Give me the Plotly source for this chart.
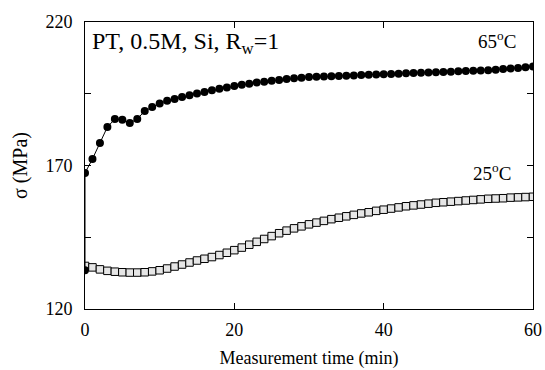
import plotly.graph_objects as go

# Data
time_min = list(range(0, 61))

sigma_65C = [167.4, 172.3, 177.8, 183.4, 186.2, 185.9, 184.8, 186.2, 189.0, 190.4,
             191.6, 192.6, 193.2, 193.9, 194.5, 195.1, 195.6, 196.2, 196.7, 197.2,
             197.7, 198.1, 198.5, 198.9, 199.2, 199.5, 199.8, 200.1, 200.4, 200.6,
             200.8, 200.9, 201.0, 201.1, 201.2, 201.3, 201.4, 201.5, 201.6, 201.7,
             201.8, 201.9, 202.0, 202.1, 202.2, 202.3, 202.4, 202.5, 202.6, 202.7,
             202.8, 202.9, 203.0, 203.1, 203.2, 203.4, 203.6, 203.8, 204.0, 204.2,
             204.5]
# initial reading of the 65 C run before the first plotted point
t0_65C = [0]
sigma0_65C = [133.5]

sigma_25C = [135.0, 134.5, 133.8, 133.3, 133.0, 132.8, 132.7, 132.7, 132.8, 133.1,
             133.5, 134.1, 134.8, 135.5, 136.2, 136.9, 137.5, 138.1, 138.8, 139.6,
             140.5, 141.4, 142.4, 143.4, 144.4, 145.4, 146.4, 147.3, 148.1, 148.8,
             149.5, 150.1, 150.7, 151.3, 151.8, 152.3, 152.8, 153.3, 153.7, 154.2,
             154.6, 155.0, 155.4, 155.8, 156.1, 156.4, 156.7, 157.0, 157.2, 157.4,
             157.6, 157.8, 158.0, 158.2, 158.4, 158.5, 158.6, 158.8, 158.9, 159.0,
             159.1]

x_ticks = [0, 20, 40, 60]
y_ticks = [120, 170, 220]

FONT = "Liberation Serif, Times New Roman, serif"

fig = go.Figure()

fig.add_trace(go.Scatter(
    x=time_min, y=sigma_25C, mode="lines+markers",
    line=dict(color="black", width=1),
    marker=dict(symbol="square", size=7.5, color="rgba(230,230,230,1)",
                line=dict(color="black", width=1)),
    showlegend=False))

fig.add_trace(go.Scatter(
    x=t0_65C + time_min, y=sigma0_65C + sigma_65C, mode="lines+markers",
    line=dict(color="black", width=1),
    marker=dict(symbol="circle", size=8, color="black"),
    showlegend=False))

fig.add_annotation(x=0.012, y=0.985, xref="paper", yref="paper", xanchor="left", yanchor="top",
                   text="PT, 0.5M, Si, R<sub>w</sub>=1", showarrow=False,
                   font=dict(family=FONT, size=24, color="black"))
fig.add_annotation(x=0.966, y=0.985, xref="paper", yref="paper", xanchor="right", yanchor="top",
                   text="65<sup>o</sup>C", showarrow=False,
                   font=dict(family=FONT, size=19, color="black"))
fig.add_annotation(x=0.955, y=0.525, xref="paper", yref="paper", xanchor="right", yanchor="top",
                   text="25<sup>o</sup>C", showarrow=False,
                   font=dict(family=FONT, size=19, color="black"))

fig.update_xaxes(range=[0, 60], tickvals=x_ticks, ticks="inside", ticklen=6,
                 tickcolor="black", showline=True, linecolor="black", linewidth=1,
                 mirror="ticks", showgrid=False, zeroline=False, automargin=False,
                 ticklabelstandoff=4,
                 tickfont=dict(family=FONT, size=18, color="black"),
                 title=dict(text="Measurement time (min)", standoff=12,
                            font=dict(family=FONT, size=18, color="black")))
fig.update_yaxes(range=[120, 220], tickvals=y_ticks, ticks="inside", ticklen=6,
                 tickcolor="black", showline=True, linecolor="black", linewidth=1,
                 mirror="ticks", showgrid=False, zeroline=False, automargin=False,
                 minor=dict(dtick=25, tick0=120, ticks="inside", ticklen=6,
                            tickcolor="black", showgrid=False),
                 ticklabelstandoff=8,
                 tickfont=dict(family=FONT, size=18, color="black"),
                 title=dict(text="σ (MPa)", standoff=12,
                            font=dict(family=FONT, size=20, color="black")))

fig.update_layout(width=545, height=370, margin=dict(l=85, r=12, t=22, b=61),
                  plot_bgcolor="white", paper_bgcolor="white")

fig.write_html("out.html")
